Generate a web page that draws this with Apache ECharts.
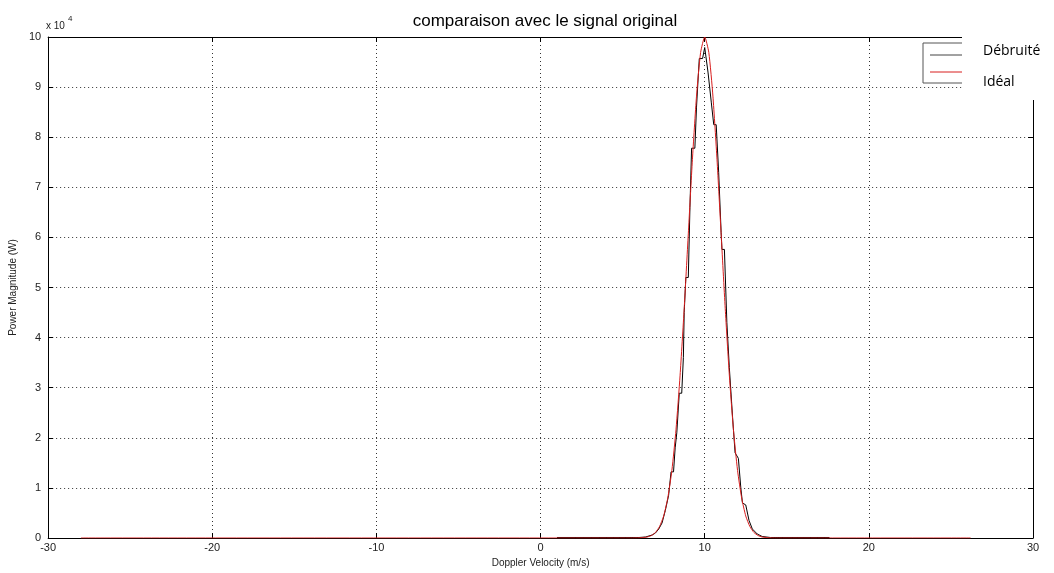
<!DOCTYPE html>
<html>
<head>
<meta charset="utf-8">
<script src="https://cdn.jsdelivr.net/npm/echarts@6/dist/echarts.min.js"></script>
<style>html,body{margin:0;padding:0;background:#fff;}#chart{width:1054px;height:573px;}</style>
</head>
<body>
<div id="chart"></div>
<script>
// Doppler velocity (m/s) and power (x 1e4 W)
const idealVelocity = [-28, 5.5, 6.0, 6.25, 6.5, 6.75, 7.0, 7.25, 7.5, 7.75, 8.0, 8.25, 8.5, 8.75, 9.0, 9.25, 9.5, 9.75, 10.0, 10.25, 10.5, 10.75, 11.0, 11.25, 11.5, 11.75, 12.0, 12.25, 12.5, 12.75, 13.0, 13.25, 13.5, 14.0, 14.5, 26.2];
const idealPower    = [0, 0, 0.003, 0.01, 0.02, 0.05, 0.11, 0.23, 0.44, 0.80, 1.35, 2.16, 3.25, 4.58, 6.07, 7.55, 8.82, 9.69, 10.0, 9.69, 8.82, 7.55, 6.07, 4.58, 3.25, 2.16, 1.35, 0.80, 0.44, 0.23, 0.11, 0.05, 0.02, 0.003, 0, 0];
const denoisedVelocity = [1.0, 6.0, 6.4, 6.8, 7.0, 7.2, 7.4, 7.6, 7.8, 7.95, 8.1, 8.2, 8.3, 8.45, 8.6, 8.7, 8.75, 8.85, 9.0, 9.1, 9.2, 9.4, 9.5, 9.67, 9.87, 10.0, 10.2, 10.4, 10.55, 10.7, 10.85, 11.0, 11.05, 11.2, 11.35, 11.5, 11.7, 11.85, 12.05, 12.2, 12.3, 12.5, 12.7, 12.9, 13.2, 13.5, 14.0, 17.6];
const denoisedPower    = [0.01, 0.01, 0.02, 0.06, 0.1, 0.18, 0.3, 0.55, 0.85, 1.32, 1.32, 1.8, 2.1, 2.89, 2.89, 3.6, 4.5, 5.2, 5.2, 6.6, 7.78, 7.78, 8.6, 9.57, 9.57, 9.79, 9.3, 8.7, 8.25, 8.25, 7.3, 6.1, 5.76, 5.76, 4.3, 3.4, 2.4, 1.7, 1.59, 1.0, 0.7, 0.66, 0.35, 0.18, 0.08, 0.03, 0.01, 0.01];
const xTicks = [-30, -20, -10, 0, 10, 20, 30];
const yTicks = [0, 1, 2, 3, 4, 5, 6, 7, 8, 9, 10];
const seriesNames = ['Débruité', 'Idéal'];

const zip = (a, b) => a.map((v, i) => [v, b[i]]);
const font = 'Liberation Sans, Arial, sans-serif';

const chart = echarts.init(document.getElementById('chart'));
const axisCommon = {
  type: 'value',
  axisLine: { show: true, onZero: false, lineStyle: { color: '#000', width: 1 } },
  axisTick: { show: true, inside: true, length: 5, lineStyle: { color: '#000' } },
};
chart.setOption({
  animation: false,
  backgroundColor: '#fff',
  title: {
    text: 'comparaison avec le signal original',
    left: 540, textAlign: 'center', top: 8,
    textStyle: { fontFamily: font, fontSize: 17, fontWeight: 'normal', color: '#000' }
  },
  grid: { left: 47, right: 21, top: 37, bottom: 35, show: false },
  xAxis: [
    Object.assign({}, axisCommon, {
      position: 'bottom', min: xTicks[0], max: xTicks[xTicks.length - 1], interval: 10,
      name: 'Doppler Velocity (m/s)', nameLocation: 'middle', nameGap: 19,
      nameTextStyle: { fontFamily: font, fontSize: 10, color: '#222' },
      axisLabel: { fontFamily: font, fontSize: 11, color: '#222', margin: 4 },
      splitLine: { show: true, lineStyle: { color: '#333', type: [1, 3], width: 1 } }
    }),
    Object.assign({}, axisCommon, {
      position: 'top', min: xTicks[0], max: xTicks[xTicks.length - 1], interval: 10,
      axisLabel: { show: false }, splitLine: { show: false }
    })
  ],
  yAxis: [
    Object.assign({}, axisCommon, {
      position: 'left', min: yTicks[0], max: yTicks[yTicks.length - 1], interval: 1,
      name: 'Power Magnitude (W)', nameLocation: 'middle', nameGap: 22,
      nameTextStyle: { fontFamily: font, fontSize: 10, color: '#222' },
      axisLabel: { fontFamily: font, fontSize: 11, color: '#222', margin: 7 },
      splitLine: { show: true, lineStyle: { color: '#333', type: [1, 3], width: 1 } }
    }),
    Object.assign({}, axisCommon, {
      position: 'right', min: yTicks[0], max: yTicks[yTicks.length - 1], interval: 1,
      axisLabel: { show: false }, splitLine: { show: false }
    })
  ],
  series: [
    {
      name: seriesNames[0], type: 'line', data: zip(denoisedVelocity, denoisedPower),
      showSymbol: false, lineStyle: { color: '#000', width: 1 }, itemStyle: { color: '#000' }, z: 2
    },
    {
      name: seriesNames[1], type: 'line', data: zip(idealVelocity, idealPower), smooth: 0.2,
      showSymbol: false, lineStyle: { color: '#d81e1e', width: 1 }, itemStyle: { color: '#d81e1e' }, z: 3
    }
  ],
  graphic: [
    { type: 'text', left: 46, top: 21, style: { text: 'x 10', font: '10px ' + font, fill: '#222' } },
    { type: 'text', left: 68, top: 15, style: { text: '4', font: '8px ' + font, fill: '#222' } },
    { type: 'rect', shape: { x: 962, y: 28, width: 92, height: 72 }, style: { fill: '#fff' }, z: 50 },
    { type: 'polyline', shape: { points: [[962, 43], [923, 43], [923, 83], [962, 83]] }, style: { stroke: '#555', lineWidth: 1, fill: null }, z: 51 },
    { type: 'line', shape: { x1: 930, y1: 55, x2: 962, y2: 55 }, style: { stroke: '#444', lineWidth: 1 }, z: 51 },
    { type: 'line', shape: { x1: 930, y1: 72, x2: 962, y2: 72 }, style: { stroke: '#d81e1e', lineWidth: 1 }, z: 51 },
    { type: 'text', left: 983, top: 44, style: { text: seriesNames[0], font: '14px "Open Sans", sans-serif', fill: '#000' }, z: 52 },
    { type: 'text', left: 983, top: 75, style: { text: seriesNames[1], font: '14px "Open Sans", sans-serif', fill: '#000' }, z: 52 }
  ]
});
</script>
</body>
</html>
